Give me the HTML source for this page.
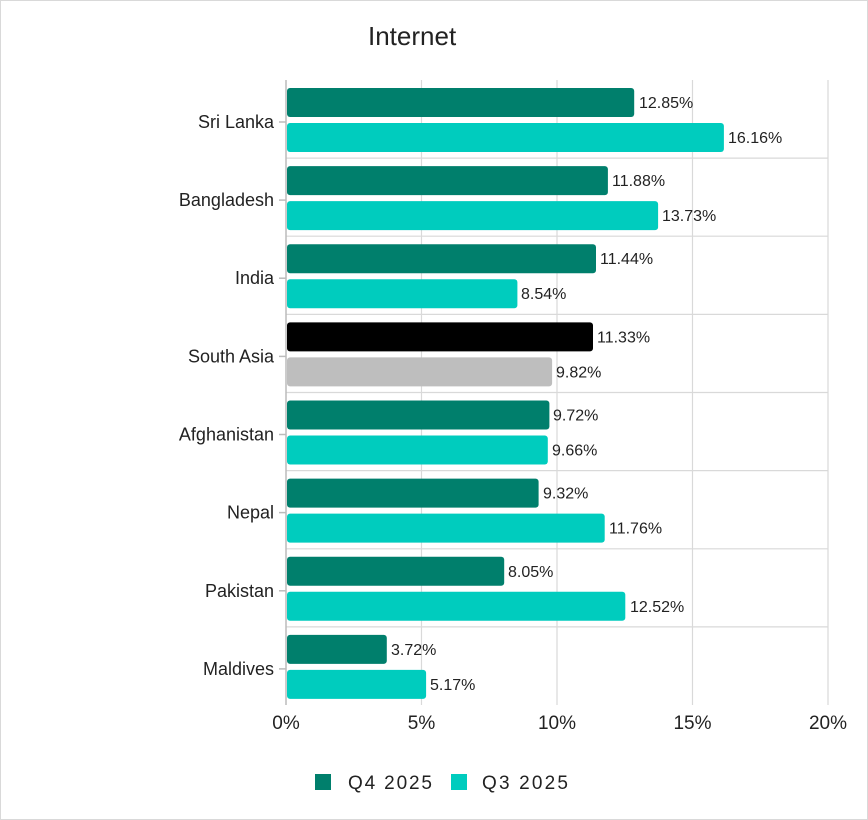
<!DOCTYPE html>
<html><head><meta charset="utf-8"><style>
html,body{margin:0;padding:0;background:#fff}
svg{display:block;font-family:"Liberation Sans",sans-serif}
</style></head><body>
<svg width="868" height="820" viewBox="0 0 868 820" xmlns="http://www.w3.org/2000/svg">
<rect x="0.5" y="0.5" width="867" height="819" fill="#fff" stroke="#d9d9d9"/>
<text x="368" y="45" font-size="26" fill="#222">Internet</text>
<g stroke="#d9d9d9" stroke-width="1.2">
<line x1="421.5" y1="80" x2="421.5" y2="705"/>
<line x1="557" y1="80" x2="557" y2="705"/>
<line x1="692.5" y1="80" x2="692.5" y2="705"/>
<line x1="828" y1="80" x2="828" y2="705"/>
<line x1="286" y1="158.1" x2="828" y2="158.1"/>
<line x1="286" y1="236.2" x2="828" y2="236.2"/>
<line x1="286" y1="314.4" x2="828" y2="314.4"/>
<line x1="286" y1="392.5" x2="828" y2="392.5"/>
<line x1="286" y1="470.6" x2="828" y2="470.6"/>
<line x1="286" y1="548.8" x2="828" y2="548.8"/>
<line x1="286" y1="626.9" x2="828" y2="626.9"/>
</g>
<g stroke="#bbb" stroke-width="1.5">
<line x1="286" y1="80" x2="286" y2="705"/>
<line x1="279" y1="122" x2="286" y2="122"/>
<line x1="279" y1="200.1" x2="286" y2="200.1"/>
<line x1="279" y1="278.2" x2="286" y2="278.2"/>
<line x1="279" y1="356.4" x2="286" y2="356.4"/>
<line x1="279" y1="434.5" x2="286" y2="434.5"/>
<line x1="279" y1="512.6" x2="286" y2="512.6"/>
<line x1="279" y1="590.8" x2="286" y2="590.8"/>
<line x1="279" y1="668.9" x2="286" y2="668.9"/>
</g>
<g>
<rect x="287" y="88" width="347.2" height="29" rx="3" fill="#007F6C"/>
<rect x="287" y="123" width="436.9" height="29" rx="3" fill="#00CCBE"/>
<rect x="287" y="166.1" width="320.9" height="29" rx="3" fill="#007F6C"/>
<rect x="287" y="201.1" width="371.1" height="29" rx="3" fill="#00CCBE"/>
<rect x="287" y="244.2" width="309" height="29" rx="3" fill="#007F6C"/>
<rect x="287" y="279.2" width="230.4" height="29" rx="3" fill="#00CCBE"/>
<rect x="287" y="322.4" width="306" height="29" rx="3" fill="#000"/>
<rect x="287" y="357.4" width="265.1" height="29" rx="3" fill="#BEBEBE"/>
<rect x="287" y="400.5" width="262.4" height="29" rx="3" fill="#007F6C"/>
<rect x="287" y="435.5" width="260.8" height="29" rx="3" fill="#00CCBE"/>
<rect x="287" y="478.6" width="251.6" height="29" rx="3" fill="#007F6C"/>
<rect x="287" y="513.6" width="317.7" height="29" rx="3" fill="#00CCBE"/>
<rect x="287" y="556.8" width="217.2" height="29" rx="3" fill="#007F6C"/>
<rect x="287" y="591.8" width="338.3" height="29" rx="3" fill="#00CCBE"/>
<rect x="287" y="634.9" width="99.8" height="29" rx="3" fill="#007F6C"/>
<rect x="287" y="669.9" width="139.1" height="29" rx="3" fill="#00CCBE"/>
</g>
<g font-size="16" fill="#222">
<text x="639" y="108">12.85%</text>
<text x="728" y="143">16.16%</text>
<text x="612" y="186.1">11.88%</text>
<text x="662" y="221.1">13.73%</text>
<text x="600" y="264.2">11.44%</text>
<text x="521" y="299.2">8.54%</text>
<text x="597" y="342.4">11.33%</text>
<text x="556" y="377.4">9.82%</text>
<text x="553" y="420.5">9.72%</text>
<text x="552" y="455.5">9.66%</text>
<text x="543" y="498.6">9.32%</text>
<text x="609" y="533.6">11.76%</text>
<text x="508" y="576.8">8.05%</text>
<text x="630" y="611.8">12.52%</text>
<text x="391" y="654.9">3.72%</text>
<text x="430" y="689.9">5.17%</text>
</g>
<g font-size="18" fill="#222" text-anchor="end">
<text x="274" y="128">Sri Lanka</text>
<text x="274" y="206.1">Bangladesh</text>
<text x="274" y="284.2">India</text>
<text x="274" y="362.4">South Asia</text>
<text x="274" y="440.5">Afghanistan</text>
<text x="274" y="518.6">Nepal</text>
<text x="274" y="596.8">Pakistan</text>
<text x="274" y="674.9">Maldives</text>
</g>
<g font-size="19" fill="#222" text-anchor="middle">
<text x="286" y="729">0%</text>
<text x="421.5" y="729">5%</text>
<text x="557" y="729">10%</text>
<text x="692.5" y="729">15%</text>
<text x="828" y="729">20%</text>
</g>
<rect x="315" y="774" width="16" height="16" fill="#007F6C"/>
<text x="348" y="789" font-size="19" fill="#222" textLength="84">Q4 2025</text>
<rect x="451" y="774" width="16" height="16" fill="#00CCBE"/>
<text x="482" y="789" font-size="19" fill="#222" textLength="86">Q3 2025</text>
</svg>
</body></html>
